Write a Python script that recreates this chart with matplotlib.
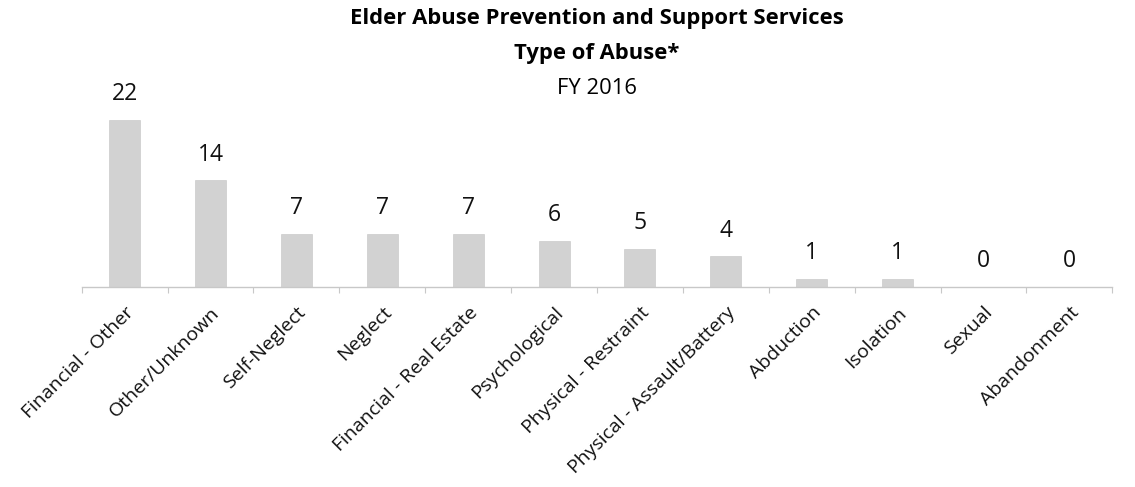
import matplotlib
matplotlib.use("Agg")
import matplotlib.pyplot as plt
import numpy as np

# data
CATEGORIES = ["Financial - Other", "Other/Unknown", "Self-Neglect", "Neglect",
              "Financial - Real Estate", "Psychological", "Physical - Restraint",
              "Physical - Assault/Battery", "Abduction", "Isolation", "Sexual",
              "Abandonment"]
COUNTS = [22, 14, 7, 7, 7, 6, 5, 4, 1, 1, 0, 0]
TITLE_LINES = ["Elder Abuse Prevention and Support Services", "Type of Abuse*", "FY 2016"]

plt.rcParams["font.family"] = ["Open Sans", "DejaVu Sans"]

fig = plt.figure(figsize=(11.35, 4.87), dpi=100)
ax = fig.add_axes([0.072, 0.411, 0.908, 0.39])

x = np.arange(len(CATEGORIES))
ax.bar(x, COUNTS, width=0.36, color="#d2d2d2", edgecolor="#c4c4c4", linewidth=0.4)
for xi, v in zip(x, COUNTS):
    ax.annotate(str(v), (xi, v), xytext=(0, 10), textcoords="offset points",
                ha="center", va="bottom", fontsize=16.5, color="#111111")

ax.set_xlim(-0.5, len(CATEGORIES) - 0.5)
ax.set_ylim(0, 25)
ax.set_yticks([])
for s in ("top", "right", "left"):
    ax.spines[s].set_visible(False)
ax.spines["bottom"].set_color("#c8c8c8")
ax.spines["bottom"].set_linewidth(1.0)
ax.spines["bottom"].set_linestyle((0, (2, 1)))

ax.set_xticks(x)
ax.set_xticklabels(CATEGORIES, rotation=45, ha="right", rotation_mode="anchor",
                   fontsize=14, color="#111111")
ax.tick_params(axis="x", length=0, pad=12)
ax.set_xticks(np.arange(len(CATEGORIES) + 1) - 0.5, minor=True)
ax.tick_params(axis="x", which="minor", length=4, color="#c8c8c8", width=0.8)

fig.text(0.526, 0.962, TITLE_LINES[0], ha="center", va="center", fontsize=15.8, fontweight="bold")
fig.text(0.526, 0.89, TITLE_LINES[1], ha="center", va="center", fontsize=15.8, fontweight="bold")
fig.text(0.526, 0.818, TITLE_LINES[2], ha="center", va="center", fontsize=15.8)

fig.savefig("out.png", dpi=100)
